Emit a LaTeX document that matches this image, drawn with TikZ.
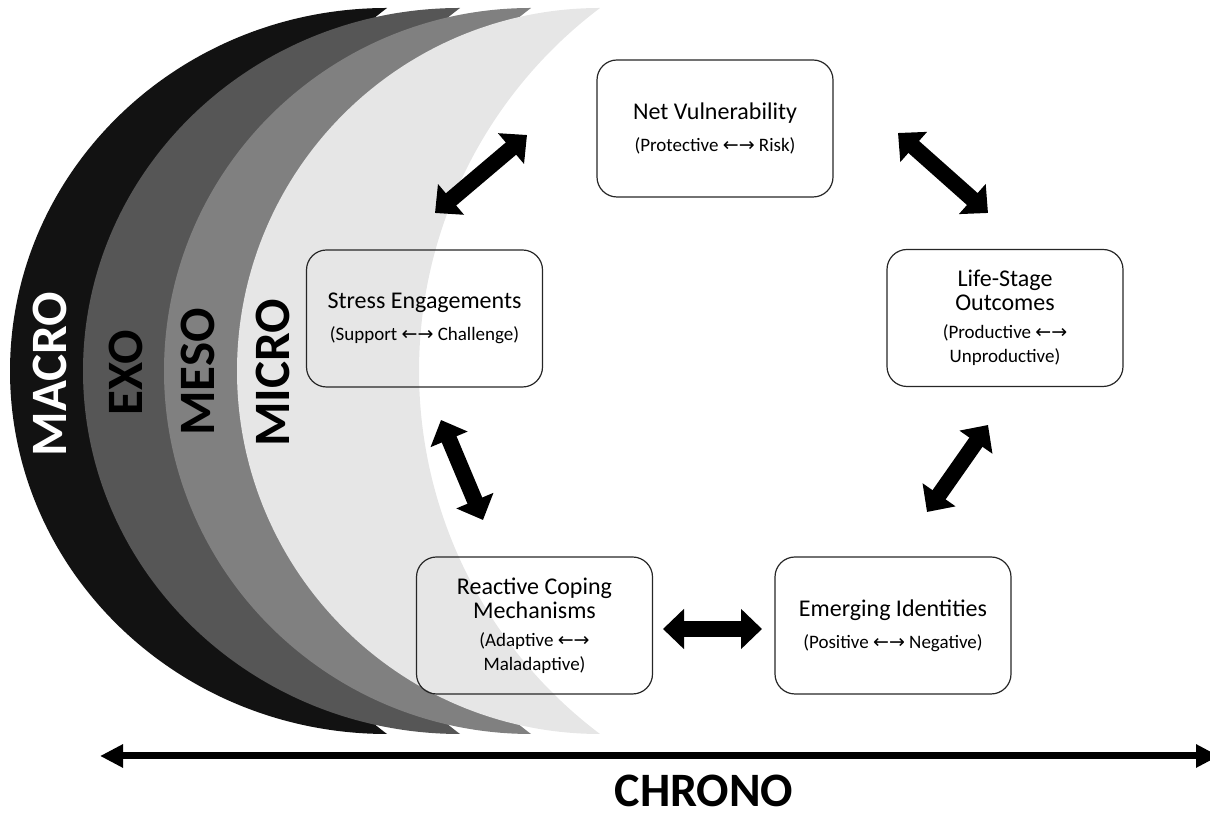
\documentclass[tikz,border=0pt]{standalone}
\usepackage{fontspec}
\setmainfont{Carlito}
\newfontfamily\arrowfont{DejaVu Sans}
\usetikzlibrary{arrows.meta}

\definecolor{macrogray}{RGB}{18,18,18}
\definecolor{exogray}{RGB}{86,86,86}
\definecolor{mesogray}{RGB}{128,128,128}
\definecolor{microgray}{RGB}{230,230,230}

\newcommand{\mainsize}{\fontsize{24}{24}\selectfont}
\newcommand{\subsize}{\fontsize{19}{19}\selectfont}
\newcommand{\twoway}{{\arrowfont ←→}}

\begin{document}
\begin{tikzpicture}[x=1pt, y=1pt,
  box/.style={draw=black!85, line width=1.2pt, rounded corners=20pt, font=\mainsize,
    minimum width=236pt, minimum height=137pt, align=center, inner sep=0pt},
  fat/.style={line width=16pt,
    {Triangle[width=39pt,length=21pt]}-{Triangle[width=39pt,length=21pt]}},
  layer/.style={font=\fontsize{51}{51}\selectfont\bfseries, rotate=90}
]
  \useasboundingbox (0, 0) rectangle (1210, 818);

  % Layers, back to front
  \fill[macrogray] (387, 810) arc[start angle=90, end angle=270, x radius=377, y radius=363]
    arc[start angle=233, end angle=127, radius=454.5] -- cycle;
  \fill[exogray] (460, 810) arc[start angle=90, end angle=270, x radius=377, y radius=363]
    arc[start angle=233, end angle=127, radius=454.5] -- cycle;
  \fill[mesogray] (531, 810) arc[start angle=90, end angle=270, x radius=367, y radius=363]
    arc[start angle=233, end angle=127, radius=454.5] -- cycle;
  \fill[microgray] (600, 810) arc[start angle=90, end angle=270, x radius=363, y radius=363]
    arc[start angle=233, end angle=127, radius=454.5] -- cycle;

  \node[layer, white] (macro) at (50, 444) {MACRO};
  \node[layer] (exo) at (126, 445) {EXO};
  \node[layer] (meso) at (198, 446) {MESO};
  \node[layer] (micro) at (273, 445) {MICRO};

  % Boxes
  \node[box] (net) at (715, 689.5)
    {Net Vulnerability\\[8pt]\subsize (Protective \twoway{} Risk)};
  \node[box] (stress) at (424.5, 499.5)
    {Stress Engagements\\[8pt]\subsize (Support \twoway{} Challenge)};
  \node[box] (life) at (1005, 500)
    {Life-Stage\\Outcomes\\[4pt]\subsize (Productive \twoway\\\subsize Unproductive)};
  \node[box] (coping) at (534.5, 192.5)
    {Reactive Coping\\Mechanisms\\[4pt]\subsize (Adaptive \twoway\\\subsize Maladaptive)};
  \node[box] (ident) at (893, 192.5)
    {Emerging Identities\\[8pt]\subsize (Positive \twoway{} Negative)};

  % Links
  \coordinate (stress_net_a) at (435, 605);
  \coordinate (stress_net_b) at (527, 683);
  \coordinate (net_life_a) at (898, 685);
  \coordinate (net_life_b) at (988, 605);
  \coordinate (stress_coping_a) at (441, 398);
  \coordinate (stress_coping_b) at (483, 298);
  \coordinate (coping_ident_a) at (663, 189);
  \coordinate (coping_ident_b) at (762, 189);
  \coordinate (ident_life_a) at (927, 306);
  \coordinate (ident_life_b) at (988, 393);

  \draw[fat] (stress_net_a) -- (stress_net_b);
  \draw[fat] (net_life_a) -- (net_life_b);
  \draw[fat] (stress_coping_a) -- (stress_coping_b);
  \draw[fat] (coping_ident_a) -- (coping_ident_b);
  \draw[fat] (ident_life_a) -- (ident_life_b);

  % Time axis
  \coordinate (chrono_l) at (100, 62);
  \coordinate (chrono_r) at (1219, 62);
  \draw[line width=7pt, {Triangle[width=22pt,length=23pt]}-{Triangle[width=22pt,length=23pt]}]
    (chrono_l) -- (chrono_r);
  \node[font=\fontsize{48}{48}\selectfont\bfseries] (chrono) at (704, 27) {CHRONO};
\end{tikzpicture}
\end{document}
